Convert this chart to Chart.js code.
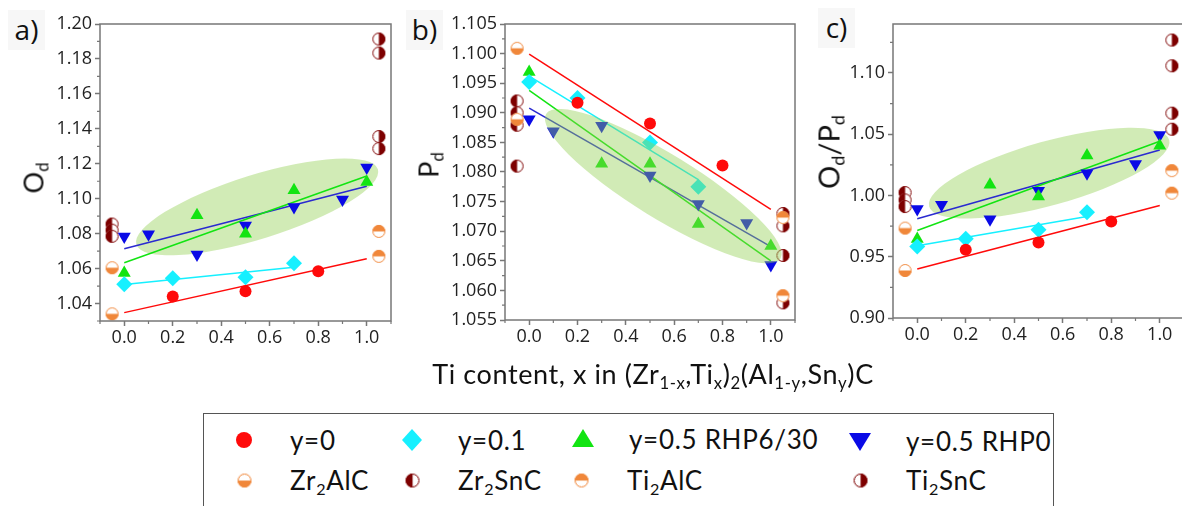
<!DOCTYPE html>
<html>
<head>
<meta charset="utf-8">
<script src="https://cdn.jsdelivr.net/npm/chart.js@4.4.1/dist/chart.umd.min.js"></script>
<style>
  body { margin: 0; width: 1182px; height: 506px; overflow: hidden; background: #fff; position: relative; font-family: Lato, sans-serif; color: #111; }
  .panel { position: absolute; }
  .tag { position: absolute; font: 28px "Open Sans", sans-serif; background: #f7f7f7; width: 37px; height: 40px; line-height: 38px; text-align: center; color: #111; }
  .ytitle { position: absolute; white-space: nowrap; font-size: 27px; transform: translate(-50%, -50%) rotate(-90deg); }
  .ytitle sub, .xtitle sub, .leg sub { font-size: 62%; vertical-align: -0.3em; line-height: 0; }
  .xtitle { position: absolute; white-space: nowrap; font-size: 27px; letter-spacing: 0.6px; transform: translateX(-50%); }
  .legbox { position: absolute; left: 203px; top: 413px; width: 849px; height: 130px; border: 1.5px solid #555; }
  .leg { position: absolute; font-size: 26px; letter-spacing: 0.7px; white-space: nowrap; transform: translateY(-50%); }
  .icon { position: absolute; }
</style>
</head>
<body>
<div class="panel" style="left:40px;top:0;width:359px;height:361px"><canvas id="chartA"></canvas></div>
<div class="panel" style="left:443px;top:0;width:360px;height:360px"><canvas id="chartB"></canvas></div>
<div class="panel" style="left:833px;top:0;width:359px;height:358px"><canvas id="chartC"></canvas></div>

<div class="tag" style="left:8px;top:10px">a)</div>
<div class="tag" style="left:406px;top:10px">b)</div>
<div class="tag" style="left:818px;top:8px">c)</div>

<div class="ytitle" style="left:33px;top:178px">O<sub>d</sub></div>
<div class="ytitle" style="left:428px;top:165px">P<sub>d</sub></div>
<div class="ytitle" style="left:828px;top:152px;font-size:29px">O<sub>d</sub>/P<sub>d</sub></div>

<div class="xtitle" style="left:653px;top:357px">Ti content, x in (Zr<sub>1-x</sub>,Ti<sub>x</sub>)<sub>2</sub>(Al<sub>1-y</sub>,Sn<sub>y</sub>)C</div>

<div class="legbox"></div>
<div id="legend"></div>

<script>
// x positions (Ti content)
const xY0 = [0.2, 0.5, 0.8];
const xY01 = [0.0, 0.2, 0.5, 0.7];
const xRHP630 = [0.0, 0.3, 0.5, 0.7, 1.0];
const xRHP0 = [0.0, 0.1, 0.3, 0.5, 0.7, 0.9, 1.0];
const xZrRef = -0.05;   // Zr2AlC / Zr2SnC references drawn left of x=0
const xTiRef = 1.05;    // Ti2AlC / Ti2SnC references drawn right of x=1
const fitX = [0.0, 1.0];
const fitXY01 = [0.0, 0.7];

// a) O_d
const odY0 = [1.044, 1.047, 1.0585];
const odY01 = [1.051, 1.0545, 1.055, 1.063];
const odRHP630 = [1.0575, 1.0905, 1.080, 1.1048, 1.1096];
const odRHP0 = [1.0784, 1.0796, 1.0681, 1.0846, 1.0952, 1.0995, 1.1178];
const odZr2AlC = [1.0605, 1.0341];
const odZr2SnC = [1.0855, 1.082, 1.0785];
const odTi2AlC = [1.0813, 1.067];
const odTi2SnC = [1.1914, 1.1834, 1.1356, 1.1287];
const odFitY0 = [1.0348, 1.0656];
const odFitY01 = [1.0509, 1.0608];
const odFitRHP630 = [1.0633, 1.113];
const odFitRHP0 = [1.0714, 1.1071];
const odTicks = [1.04, 1.06, 1.08, 1.10, 1.12, 1.14, 1.16, 1.18, 1.20];

// b) P_d
const pdY0 = [1.0917, 1.0882, 1.0811];
const pdY01 = [1.0952, 1.0925, 1.0850, 1.0775];
const pdRHP630 = [1.0969, 1.0814, 1.0814, 1.0712, 1.0675];
const pdRHP0 = [1.0889, 1.0869, 1.0878, 1.0794, 1.0746, 1.0714, 1.0643];
const pdZr2AlC = [1.1009, 1.0889];
const pdZr2SnC = [1.092, 1.090, 1.0879, 1.081];
const pdTi2AlC = [1.0723, 1.0591];
const pdTi2SnC = [1.073, 1.0709, 1.0659, 1.0579];
const pdFitY0 = [1.0999, 1.0737];
const pdFitY01 = [1.0962, 1.0787];
const pdFitRHP630 = [1.0938, 1.0650];
const pdFitRHP0 = [1.0908, 1.0674];
const pdTicks = [1.055, 1.060, 1.065, 1.070, 1.075, 1.080, 1.085, 1.090, 1.095, 1.100, 1.105];

// c) O_d/P_d
const rY0 = [0.9557, 0.9616, 0.9788];
const rY01 = [0.9584, 0.9646, 0.972, 0.9864];
const rRHP630 = [0.9644, 1.0087, 0.9991, 1.0326, 1.0407];
const rRHP0 = [0.9889, 0.9924, 0.9807, 1.0038, 1.0182, 1.0258, 1.0494];
const rZr2AlC = [0.9734, 0.9388];
const rZr2SnC = [1.0024, 0.9964, 0.991];
const rTi2AlC = [1.0203, 1.0019];
const rTi2SnC = [1.1269, 1.1059, 1.0672, 1.0541];
const rFitY0 = [0.940, 0.9918];
const rFitY01 = [0.959, 0.9828];
const rFitRHP630 = [0.9714, 1.0443];
const rFitRHP0 = [0.981, 1.0372];
const rTicks = [0.90, 0.95, 1.00, 1.05, 1.10];

const xTicks = [0.0, 0.2, 0.4, 0.6, 0.8, 1.0];

// shaded ellipses: ends of the long axis, in data units
const ellipseA = { from: [0.05, 1.0738], to: [1.046, 1.1168] };
const ellipseB = { from: [0.07, 1.0898], to: [1.04, 1.0654] };
const ellipseC = { from: [0.049, 0.991], to: [1.039, 1.0454] };

const RED = '#ff0a0a', CYAN = '#16f0ff', GREEN = '#12e412', BLUE = '#0a0ae6';
const ORANGE = '#f0873a', DARKRED = '#7d0000';
const AXIS = '#777';

function halfDot(color, side, r) {
  const s = Math.ceil(2 * r + 2);
  const c = document.createElement('canvas');
  c.width = s; c.height = s;
  const g = c.getContext('2d');
  const m = s / 2;
  g.beginPath(); g.arc(m, m, r, 0, Math.PI * 2); g.fillStyle = '#fff'; g.fill();
  g.save();
  g.beginPath();
  if (side === 'bottom') g.rect(0, m, s, m);
  else if (side === 'top') g.rect(0, 0, s, m);
  else if (side === 'left') g.rect(0, 0, m, s);
  else g.rect(m, 0, m, s);
  g.clip();
  g.beginPath(); g.arc(m, m, r, 0, Math.PI * 2); g.fillStyle = color; g.fill();
  g.restore();
  g.beginPath(); g.arc(m, m, r - 0.5, 0, Math.PI * 2);
  g.strokeStyle = color; g.lineWidth = 1; g.stroke();
  return c;
}

const dotZr2AlC = halfDot(ORANGE, 'bottom', 6.5);
const dotTi2AlC = halfDot(ORANGE, 'top', 6.5);
const dotZr2SnC = halfDot(DARKRED, 'left', 6.5);
const dotTi2SnC = halfDot(DARKRED, 'right', 6.5);

const pts = (xs, ys) => ys.map((v, i) => ({ x: Array.isArray(xs) ? xs[i] : xs, y: v }));

function markers(label, xs, ys, style, color, radius, rotation) {
  return {
    label, data: pts(xs, ys), showLine: false, order: 1, clip: false,
    pointStyle: style, pointRadius: radius, pointRotation: rotation || 0,
    pointBackgroundColor: color, pointBorderColor: color, pointBorderWidth: 0
  };
}
function fit(xs, ys, color) {
  return {
    data: pts(xs, ys), showLine: true, order: 5, clip: false,
    borderColor: color, borderWidth: 1.5, pointRadius: 0
  };
}

function drawEllipse(chart, opts) {
  const e = opts.ellipse;
  const xs = chart.scales.x, ys = chart.scales.y;
  const x1 = xs.getPixelForValue(e.from[0]), y1 = ys.getPixelForValue(e.from[1]);
  const x2 = xs.getPixelForValue(e.to[0]), y2 = ys.getPixelForValue(e.to[1]);
  const ctx = chart.ctx;
  ctx.save();
  ctx.beginPath();
  ctx.ellipse((x1 + x2) / 2, (y1 + y2) / 2, Math.hypot(x2 - x1, y2 - y1) / 2, opts.halfWidth,
    Math.atan2(y2 - y1, x2 - x1), 0, Math.PI * 2);
  ctx.fillStyle = 'rgba(146, 208, 80, 0.42)';
  ctx.fill();
  ctx.restore();
}

const decor = {
  id: 'decor',
  beforeDatasetsDraw(chart, args, opts) { if (!opts.onTop) drawEllipse(chart, opts); },
  afterDatasetsDraw(chart, args, opts) { if (opts.onTop) drawEllipse(chart, opts); },
  afterDraw(chart, args, opts) {
    const { ctx, chartArea: a } = chart;
    const xs = chart.scales.x, ys = chart.scales.y;
    ctx.save();
    ctx.strokeStyle = AXIS;
    ctx.lineWidth = 1.5;
    ctx.strokeRect(a.left, a.top, a.right - a.left, a.bottom - a.top);
    // minor ticks halfway between the labelled ones
    ctx.lineWidth = 1.2;
    ctx.beginPath();
    const xm = [-0.1, 0.1, 0.3, 0.5, 0.7, 0.9, 1.1];
    xm.forEach(v => {
      const p = xs.getPixelForValue(v);
      ctx.moveTo(p, a.bottom); ctx.lineTo(p, a.bottom + 3);
    });
    const step = opts.yTicks[1] - opts.yTicks[0];
    for (let v = opts.yTicks[0] - step / 2; v <= ys.max + 1e-9; v += step) {
      if (v < ys.min - 1e-9) continue;
      const p = ys.getPixelForValue(v);
      ctx.moveTo(a.left - 3, p); ctx.lineTo(a.left, p);
    }
    ctx.stroke();
    ctx.restore();
  }
};

function makeChart(id, sets, yTicks, yMin, yMax, digits, ellipse, onTop, yWidth) {
  const tickFont = { family: '"Open Sans"', size: 18 };
  return new Chart(document.getElementById(id), {
    type: 'scatter',
    data: {
      datasets: [
        fit(fitX, sets.fitY0, RED),
        fit(fitXY01, sets.fitY01, CYAN),
        fit(fitX, sets.fitRHP630, GREEN),
        fit(fitX, sets.fitRHP0, '#2a2ad0'),
        markers('y=0', xY0, sets.y0, 'circle', RED, 6),
        markers('y=0.1', xY01, sets.y01, 'rectRot', CYAN, 8),
        markers('y=0.5 RHP6/30', xRHP630, sets.rhp630, 'triangle', GREEN, 7.5),
        markers('y=0.5 RHP0', xRHP0, sets.rhp0, 'triangle', BLUE, 7.5, 180),
        markers('Zr2AlC', xZrRef, sets.zr2alc, dotZr2AlC, ORANGE, 6),
        markers('Zr2SnC', xZrRef, sets.zr2snc, dotZr2SnC, DARKRED, 6),
        markers('Ti2AlC', xTiRef, sets.ti2alc, dotTi2AlC, ORANGE, 6),
        markers('Ti2SnC', xTiRef, sets.ti2snc, dotTi2SnC, DARKRED, 6)
      ]
    },
    options: {
      responsive: true,
      maintainAspectRatio: false,
      animation: false,
      layout: { padding: { top: 24, right: 4, left: 0, bottom: 0 } },
      plugins: {
        legend: { display: false },
        tooltip: { enabled: false },
        decor: { ellipse, onTop, halfWidth: 32, yTicks }
      },
      scales: {
        x: {
          type: 'linear', min: -0.1, max: 1.1,
          afterBuildTicks: s => { s.ticks = xTicks.map(v => ({ value: v })); },
          afterFit: s => { s.height = 40; },
          ticks: { font: tickFont, color: '#222', padding: 1, maxRotation: 0, callback: v => v.toFixed(1) },
          grid: { drawOnChartArea: false, tickLength: 5, tickColor: AXIS, tickWidth: 1.5 },
          border: { display: false }
        },
        y: {
          type: 'linear', min: yMin, max: yMax,
          afterBuildTicks: s => { s.ticks = yTicks.map(v => ({ value: v })); },
          afterFit: s => { s.width = yWidth; },
          ticks: { font: tickFont, color: '#222', padding: 3, callback: v => v.toFixed(digits) },
          grid: { drawOnChartArea: false, tickLength: 5, tickColor: AXIS, tickWidth: 1.5 },
          border: { display: false }
        }
      }
    },
    plugins: [decor]
  });
}

makeChart('chartA', {
  y0: odY0, y01: odY01, rhp630: odRHP630, rhp0: odRHP0,
  zr2alc: odZr2AlC, zr2snc: odZr2SnC, ti2alc: odTi2AlC, ti2snc: odTi2SnC,
  fitY0: odFitY0, fitY01: odFitY01, fitRHP630: odFitRHP630, fitRHP0: odFitRHP0
}, odTicks, 1.03, 1.20, 2, ellipseA, false, 60);

makeChart('chartB', {
  y0: pdY0, y01: pdY01, rhp630: pdRHP630, rhp0: pdRHP0,
  zr2alc: pdZr2AlC, zr2snc: pdZr2SnC, ti2alc: pdTi2AlC, ti2snc: pdTi2SnC,
  fitY0: pdFitY0, fitY01: pdFitY01, fitRHP630: pdFitRHP630, fitRHP0: pdFitRHP0
}, pdTicks, 1.055, 1.105, 3, ellipseB, true, 62);

makeChart('chartC', {
  y0: rY0, y01: rY01, rhp630: rRHP630, rhp0: rRHP0,
  zr2alc: rZr2AlC, zr2snc: rZr2SnC, ti2alc: rTi2AlC, ti2snc: rTi2SnC,
  fitY0: rFitY0, fitY01: rFitY01, fitRHP630: rFitRHP630, fitRHP0: rFitRHP0
}, rTicks, 0.90, 1.14, 2, ellipseC, false, 60);

// shared legend
const legendItems = [
  { html: 'y=0', icon: 'circle', color: RED, x: 244, y: 440 },
  { html: 'y=0.1', icon: 'diamond', color: CYAN, x: 412, y: 440 },
  { html: 'y=0.5 RHP6/30', icon: 'up', color: GREEN, x: 583, y: 439 },
  { html: 'y=0.5 RHP0', icon: 'down', color: BLUE, x: 860, y: 441 },
  { html: 'Zr<sub>2</sub>AlC', icon: dotZr2AlC, x: 244, y: 480 },
  { html: 'Zr<sub>2</sub>SnC', icon: dotZr2SnC, x: 412, y: 480 },
  { html: 'Ti<sub>2</sub>AlC', icon: dotTi2AlC, x: 581, y: 480 },
  { html: 'Ti<sub>2</sub>SnC', icon: dotTi2SnC, x: 860, y: 480 }
];
const legend = document.getElementById('legend');
legendItems.forEach(it => {
  const c = document.createElement('canvas');
  c.width = 24; c.height = 24; c.className = 'icon';
  c.style.left = (it.x - 12) + 'px'; c.style.top = (it.y - 12) + 'px';
  const g = c.getContext('2d');
  g.fillStyle = it.color;
  g.beginPath();
  if (it.icon === 'circle') g.arc(12, 12, 8, 0, Math.PI * 2);
  else if (it.icon === 'diamond') { g.moveTo(12, 1); g.lineTo(22, 12); g.lineTo(12, 23); g.lineTo(2, 12); }
  else if (it.icon === 'up') { g.moveTo(12, 2); g.lineTo(23, 20); g.lineTo(1, 20); }
  else if (it.icon === 'down') { g.moveTo(1, 4); g.lineTo(23, 4); g.lineTo(12, 22); }
  g.closePath();
  if (typeof it.icon === 'string') g.fill();
  else g.drawImage(it.icon, 12 - it.icon.width / 2, 12 - it.icon.height / 2, it.icon.width + 1, it.icon.height + 1);
  legend.appendChild(c);
  const t = document.createElement('div');
  t.className = 'leg';
  t.innerHTML = it.html;
  t.style.left = (it.x + 46) + 'px';
  t.style.top = it.y + 'px';
  legend.appendChild(t);
});
</script>
</body>
</html>
